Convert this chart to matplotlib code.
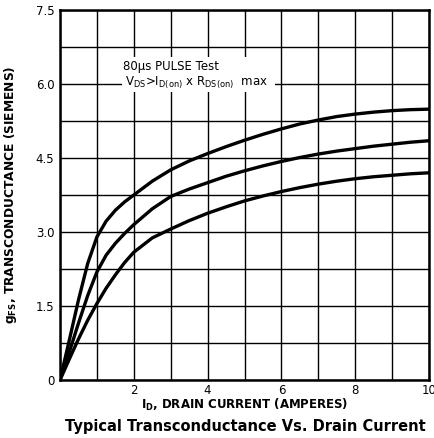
import matplotlib
matplotlib.use("Agg")
import matplotlib.pyplot as plt
from matplotlib.patches import Rectangle

plt.rcParams['font.family'] = ['DejaVu Sans']
plt.rcParams['mathtext.fontset'] = 'dejavusans'

# Drain current (A)
drain_current = [0, 0.25, 0.5, 0.75, 1.0, 1.25, 1.5, 1.75, 2.0, 2.5, 3.0, 3.5, 4.0, 4.5,
                 5.0, 5.5, 6.0, 6.5, 7.0, 7.5, 8.0, 8.5, 9.0, 9.5, 10.0]
# Transconductance curves (S)
gfs_top = [0, 0.80, 1.62, 2.36, 2.90, 3.22, 3.44, 3.61, 3.75, 4.03, 4.26, 4.44, 4.59, 4.73,
           4.86, 4.98, 5.09, 5.19, 5.27, 5.34, 5.39, 5.43, 5.46, 5.48, 5.49]
gfs_mid = [0, 0.56, 1.15, 1.71, 2.19, 2.53, 2.77, 2.97, 3.15, 3.47, 3.72, 3.87, 4.00, 4.13,
           4.24, 4.34, 4.43, 4.51, 4.58, 4.64, 4.69, 4.74, 4.78, 4.82, 4.85]
gfs_bot = [0, 0.42, 0.83, 1.21, 1.55, 1.86, 2.13, 2.38, 2.59, 2.88, 3.06, 3.23, 3.38, 3.51,
           3.63, 3.73, 3.82, 3.90, 3.97, 4.03, 4.08, 4.12, 4.15, 4.18, 4.20]

x_ticks = [0, 1, 2, 3, 4, 5, 6, 7, 8, 9, 10]
x_labels = ['', '', '2', '', '4', '', '6', '', '8', '', '10']
y_ticks = [0, 0.75, 1.5, 2.25, 3.0, 3.75, 4.5, 5.25, 6.0, 6.75, 7.5]
y_labels = ['0', '', '1.5', '', '3.0', '', '4.5', '', '6.0', '', '7.5']

fig = plt.figure(figsize=(4.35, 4.38), dpi=100)
ax = fig.add_axes([60/435, 58/438, 369/435, 370/438])
ax.set_xlim(0, 10)
ax.set_ylim(0, 7.5)

ax.set_xticks(x_ticks)
ax.set_xticklabels(x_labels, fontsize=8.5)
ax.set_yticks(y_ticks)
ax.set_yticklabels(y_labels, fontsize=8.5)
ax.tick_params(length=0, pad=4)
ax.tick_params(axis='x', pad=3)
ax.grid(True, color='black', linewidth=1.0, zorder=1)
ax.set_axisbelow(True)
for s in ax.spines.values():
    s.set_linewidth(1.8)

for series in (gfs_top, gfs_mid, gfs_bot):
    ax.plot(drain_current, series, color='black', linewidth=2.4, zorder=4,
            solid_capstyle='round', solid_joinstyle='round')

ax.add_patch(Rectangle((1.68, 5.84), 4.15, 0.71, facecolor='white',
                       edgecolor='none', zorder=2))
ax.text(1.72, 6.36, '80\u00b5s PULSE Test', fontsize=8.5, va='center', ha='left', zorder=5)
ax.text(1.76, 6.02, r'V$_{\rm DS}$>I$_{\rm D(on)}$ x R$_{\rm DS(on)}$  max',
        fontsize=8.5, va='center', ha='left', zorder=5)

ax.set_xlabel(r'I$_{\bf D}$, DRAIN CURRENT (AMPERES)', fontsize=8.5,
              fontweight='bold', labelpad=0)
ax.set_ylabel(r'g$_{\bf FS}$, TRANSCONDUCTANCE (SIEMENS)', fontsize=8.8,
              fontweight='bold', labelpad=12)
fig.text(245/435, 1 - 427/438, 'Typical Transconductance Vs. Drain Current',
         fontsize=10.5, fontweight='bold', ha='center', va='center')

fig.savefig('out.png', dpi=100)
